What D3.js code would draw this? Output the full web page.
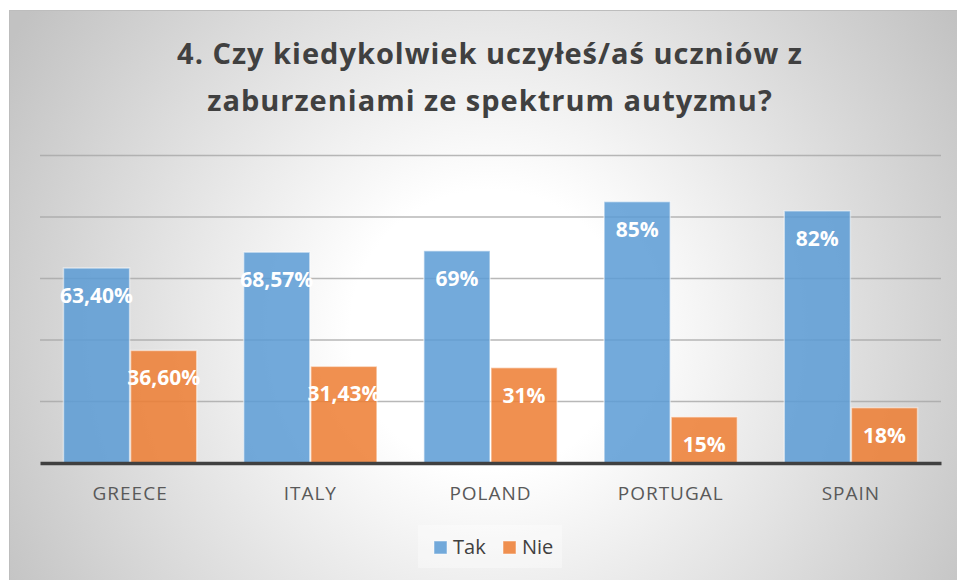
<!DOCTYPE html>
<html>
<head>
<meta charset="utf-8">
<script src="https://cdn.jsdelivr.net/npm/d3@7"></script>
<style>
	body { margin: 0; background: #fff; }
	text { font-family: "Open Sans", "Noto Sans", sans-serif; }
</style>
</head>
<body>
<div id="chart-area"></div>
<script>

// Data
var countries = ["GREECE", "ITALY", "POLAND", "PORTUGAL", "SPAIN"];
var seriesNames = ["Tak", "Nie"];
var takValues = [63.40, 68.57, 69, 85, 82];
var nieValues = [36.60, 31.43, 31, 15, 18];
var takLabels = ["63,40%", "68,57%", "69%", "85%", "82%"];
var nieLabels = ["36,60%", "31,43%", "31%", "15%", "18%"];
var yTicks = [0, 20, 40, 60, 80, 100];
var titleLines = ["4. Czy kiedykolwiek uczyłeś/aś uczniów z", "zaburzeniami ze spektrum autyzmu?"];

var colors = { Tak: "#5b9bd5", Nie: "#ed7d31" };

// Setup the canvas
var width = 957;
var height = 580;

var svg = d3.select("#chart-area").append("svg")
	.attr("width", width)
	.attr("height", height);

var defs = svg.append("defs");
var grad = defs.append("radialGradient")
	.attr("id", "bg")
	.attr("gradientUnits", "userSpaceOnUse")
	.attr("cx", 490).attr("cy", 330).attr("r", 560);
grad.append("stop").attr("offset", "0%").attr("stop-color", "#ffffff");
grad.append("stop").attr("offset", "25%").attr("stop-color", "#ffffff");
grad.append("stop").attr("offset", "100%").attr("stop-color", "#c2c2c2");

// Chart frame
svg.append("rect")
	.attr("x", 9.5).attr("y", 10.5)
	.attr("width", 970).attr("height", 580)
	.attr("fill", "url(#bg)")
	.attr("stroke", "#bdbdbd")
	.attr("stroke-width", 1);

// Title
svg.append("text")
	.attr("x", 490)
	.attr("text-anchor", "middle")
	.attr("font-size", "29px")
	.attr("letter-spacing", "1px")
	.attr("font-weight", "bold")
	.attr("fill", "#404040")
	.selectAll("tspan")
	.data(titleLines)
	.enter()
	.append("tspan")
		.attr("x", 490)
		.attr("y", (d, i) => 64 + i * 47)
		.text((d) => d);

// Scales
var plot = { left: 40, right: 941, top: 155.5, bottom: 463 };

var x0 = d3.scaleBand()
	.domain(countries)
	.range([plot.left, plot.right])
	.paddingInner(0.255)
	.paddingOuter(0.1275);

var x1 = d3.scaleBand()
	.domain(seriesNames)
	.range([0, x0.bandwidth()]);

var y = d3.scaleLinear()
	.domain([0, 100])
	.range([plot.bottom, plot.top]);

// Gridlines
svg.append("g")
	.attr("class", "grid")
	.selectAll("line")
	.data(yTicks.slice(1))
	.enter()
	.append("line")
		.attr("x1", plot.left)
		.attr("x2", plot.right)
		.attr("y1", (d) => y(d))
		.attr("y2", (d) => y(d))
		.attr("stroke", "#a6a6a6")
		.attr("stroke-opacity", 0.8)
		.attr("stroke-width", 1.5);

// Bars
var data = countries.map((c, i) => {
	return {
		country: c,
		values: [
			{ key: "Tak", value: takValues[i], label: takLabels[i] },
			{ key: "Nie", value: nieValues[i], label: nieLabels[i] }
		]
	};
});

var groups = svg.selectAll("g.country")
	.data(data)
	.enter()
	.append("g")
		.attr("class", "country")
		.attr("transform", (d) => "translate(" + x0(d.country) + ",0)");

groups.selectAll("rect")
	.data((d) => d.values)
	.enter()
	.append("rect")
		.attr("x", (d) => x1(d.key) + 0.5)
		.attr("y", (d) => y(d.value))
		.attr("width", x1.bandwidth() - 1)
		.attr("height", (d) => plot.bottom - y(d.value))
		.attr("fill", (d) => colors[d.key])
		.attr("fill-opacity", 0.85)
		.attr("stroke", "#ffffff")
		.attr("stroke-opacity", 0.5)
		.attr("stroke-width", 1.5);

groups.selectAll("text.value")
	.data((d) => d.values)
	.enter()
	.append("text")
		.attr("class", "value")
		.attr("x", (d) => x1(d.key) + x1.bandwidth() / 2)
		.attr("y", (d) => y(d.value) + 35)
		.attr("text-anchor", "middle")
		.attr("font-size", "21px")
		.attr("font-weight", "bold")
		.attr("fill", "#ffffff")
		.text((d) => d.label);

// Axis
var xAxis = d3.axisBottom(x0).tickSize(0).tickPadding(24);
var axisG = svg.append("g")
	.attr("class", "x axis")
	.attr("transform", "translate(0," + plot.bottom + ")")
	.call(xAxis);
axisG.select(".domain")
	.attr("stroke", "#404040")
	.attr("stroke-width", 3.5);
axisG.selectAll("text")
	.attr("font-size", "19px")
	.attr("letter-spacing", "1px")
	.attr("font-family", "'Open Sans', sans-serif")
	.attr("fill", "#595959");

// Legend
var legend = svg.append("g").attr("class", "legend");
legend.append("rect")
	.attr("x", 418).attr("y", 525)
	.attr("width", 144).attr("height", 43)
	.attr("fill", "#ffffff")
	.attr("fill-opacity", 0.35);

var legendX = [434, 503];
var items = legend.selectAll("g.item")
	.data(seriesNames)
	.enter()
	.append("g")
		.attr("class", "item")
		.attr("transform", (d, i) => "translate(" + legendX[i] + ",541)");
items.append("rect")
	.attr("width", 13).attr("height", 13)
	.attr("fill", (d) => colors[d])
	.attr("fill-opacity", 0.85)
	.attr("stroke", "#ffffff")
	.attr("stroke-opacity", 0.5);
items.append("text")
	.attr("x", 19)
	.attr("y", 13)
	.attr("font-size", "20px")
	.attr("fill", "#404040")
	.text((d) => d);

</script>
</body>
</html>
